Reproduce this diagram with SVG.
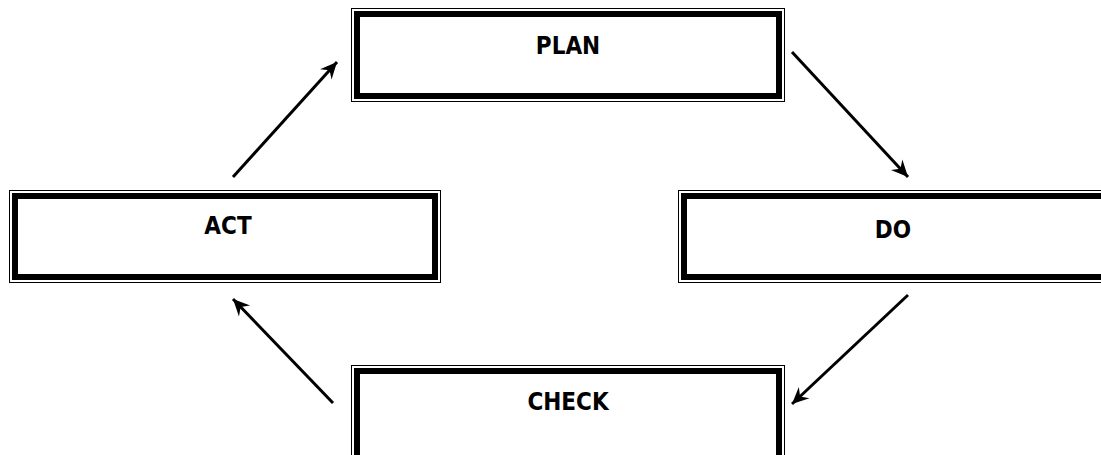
<svg xmlns="http://www.w3.org/2000/svg" width="1101" height="455" viewBox="0 0 1101 455">
<style>
.thin{fill:none;stroke:#000;stroke-width:1}
.thick{fill:none;stroke:#000;stroke-width:6}
.bg{fill:#fff}
.lbl{font-family:"DejaVu Sans Condensed","DejaVu Sans",sans-serif;font-stretch:condensed;font-weight:bold;font-size:24px;fill:#000;text-anchor:middle}
.conn{stroke:#000;stroke-width:3;fill:none;marker-end:url(#ah)}
</style>
<defs>
<marker id="ah" markerUnits="userSpaceOnUse" markerWidth="20" markerHeight="20" viewBox="-16 -8 18 16" refX="0" refY="0" orient="auto">
<path d="M0,0 L-15,-7 L-10,0 L-15,7 Z" fill="#000"/>
</marker>
</defs>
<rect x="0" y="0" width="1101" height="455" fill="#fff"/>
<g id="plan">
<rect class="thin" x="351.5" y="8.5" width="433" height="93"/>
<rect class="thick" x="357" y="14" width="422" height="82"/>
<text class="lbl" x="568" y="54">PLAN</text>
</g>
<g id="act">
<rect class="thin" x="9.5" y="190.5" width="431" height="92"/>
<rect class="thick" x="15" y="196" width="420" height="81"/>
<text class="lbl" x="228" y="234">ACT</text>
</g>
<g id="do">
<rect class="thin" x="678.5" y="190.5" width="521" height="92"/>
<rect class="thick" x="684" y="196" width="510" height="81"/>
<text class="lbl" x="893" y="238">DO</text>
</g>
<g id="check">
<rect class="thin" x="351.5" y="365.5" width="433" height="134"/>
<rect class="thick" x="357" y="371" width="422" height="123"/>
<text class="lbl" x="568" y="410">CHECK</text>
</g>
<g id="connectors">
<line class="conn" x1="233" y1="177" x2="337" y2="62"/>
<line class="conn" x1="792" y1="52" x2="908" y2="177"/>
<line class="conn" x1="908" y1="295" x2="792" y2="404"/>
<line class="conn" x1="333" y1="403" x2="233" y2="299"/>
</g>
</svg>
